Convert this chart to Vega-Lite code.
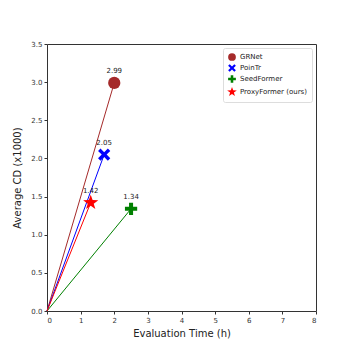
{
  "$schema": "https://vega.github.io/schema/vega-lite/v6.json",
  "width": 269,
  "height": 267,
  "autosize": {"type": "none"},
  "padding": {"left": 47, "top": 44, "right": 38, "bottom": 43},
  "background": "white",
  "config": {
    "view": {"stroke": "#333", "strokeWidth": 1},
    "font": "DejaVu Sans",
    "axis": {"grid": false, "domain": false, "tickColor": "#333", "labelColor": "#333", "labelFontSize": 7, "labelOverlap": false, "titleFontSize": 10, "titleFontWeight": "normal", "titleColor": "#222", "tickSize": 3}
  },
  "datasets": {
    "lines": [
      {"model": "GRNet", "time": 0, "cd": 0},
      {"model": "GRNet", "time": 2.0, "cd": 2.99},
      {"model": "PoinTr", "time": 0, "cd": 0},
      {"model": "PoinTr", "time": 1.7, "cd": 2.05},
      {"model": "SeedFormer", "time": 0, "cd": 0},
      {"model": "SeedFormer", "time": 2.5, "cd": 1.34},
      {"model": "ProxyFormer (ours)", "time": 0, "cd": 0},
      {"model": "ProxyFormer (ours)", "time": 1.3, "cd": 1.42}
    ],
    "points": [
      {"model": "GRNet", "time": 2.0, "cd": 2.99, "label": "2.99"},
      {"model": "PoinTr", "time": 1.7, "cd": 2.05, "label": "2.05"},
      {"model": "SeedFormer", "time": 2.5, "cd": 1.34, "label": "1.34"},
      {"model": "ProxyFormer (ours)", "time": 1.3, "cd": 1.42, "label": "1.42"}
    ]
  },
  "encoding": {
    "x": {"field": "time", "type": "quantitative", "scale": {"domain": [0, 8], "nice": false}, "axis": {"values": [0,1,2,3,4,5,6,7,8], "labelOverlap": false, "title": "Evaluation Time (h)", "titlePadding": 5}},
    "y": {"field": "cd", "type": "quantitative", "scale": {"domain": [0, 3.5], "nice": false}, "axis": {"values": [0,0.5,1,1.5,2,2.5,3,3.5], "labelOverlap": false, "format": ".1f", "title": "Average CD (x1000)", "titlePadding": 8}}
  },
  "layer": [
    {
      "data": {"name": "lines"},
      "mark": {"type": "line", "strokeWidth": 1},
      "encoding": {
        "color": {"field": "model", "type": "nominal", "scale": {"domain": ["GRNet", "PoinTr", "SeedFormer", "ProxyFormer (ours)"], "range": ["#a52a2a", "#0000ff", "#008000", "#ff0000"]}},
        "detail": {"field": "model"}
      }
    },
    {
      "data": {"name": "points"},
      "mark": {"type": "point", "filled": true, "opacity": 1, "size": 150},
      "encoding": {
        "color": {"field": "model", "type": "nominal", "scale": {"domain": ["GRNet", "PoinTr", "SeedFormer", "ProxyFormer (ours)"], "range": ["#a52a2a", "#0000ff", "#008000", "#ff0000"]},
          "legend": {"title": null, "orient": "top-right", "offset": 4, "labelFontSize": 7, "labelColor": "#222", "symbolSize": 60, "symbolStrokeWidth": 0, "rowPadding": 3, "padding": 5, "strokeColor": "#ddd", "fillColor": "white", "cornerRadius": 2, "labelLimit": 200}},
        "shape": {"field": "model", "type": "nominal", "scale": {"domain": ["GRNet", "PoinTr", "SeedFormer", "ProxyFormer (ours)"], "range": ["circle", "M-1,-0.6L-0.6,-1L0,-0.4L0.6,-1L1,-0.6L0.4,0L1,0.6L0.6,1L0,0.4L-0.6,1L-1,0.6L-0.4,0Z", "M-0.33,-1L0.33,-1L0.33,-0.33L1,-0.33L1,0.33L0.33,0.33L0.33,1L-0.33,1L-0.33,0.33L-1,0.33L-1,-0.33L-0.33,-0.33Z", "M0,-1.3L0.31,-0.42L1.24,-0.4L0.49,0.16L0.76,1.05L0,0.52L-0.76,1.05L-0.49,0.16L-1.24,-0.4L-0.31,-0.42Z"]}}
      }
    },
    {
      "data": {"name": "points"},
      "mark": {"type": "text", "dy": -12, "fontSize": 7, "color": "#222"},
      "encoding": {
        "text": {"field": "label"}
      }
    }
  ]
}
